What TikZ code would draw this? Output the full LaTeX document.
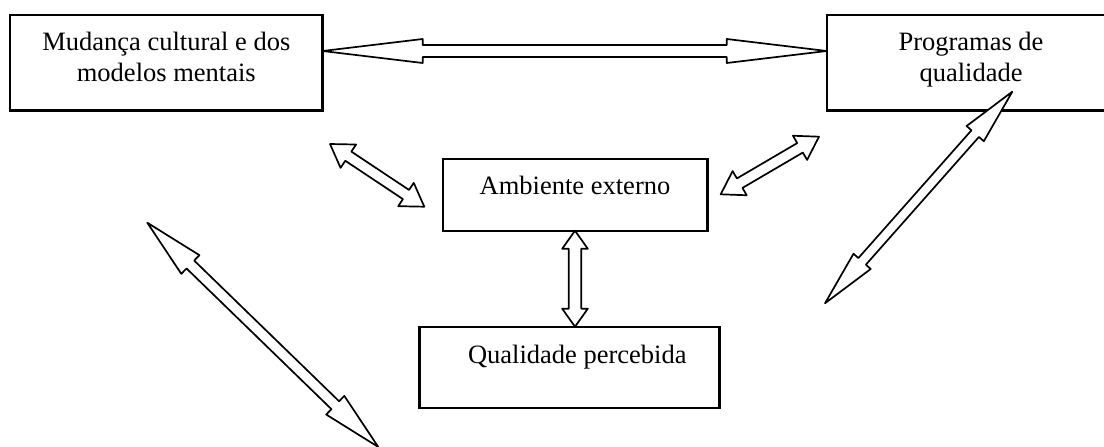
\documentclass[tikz,border=0pt]{standalone}
\usepackage{fontspec}
\setmainfont{Liberation Serif}
\usetikzlibrary{calc}

\newcommand{\blockarrow}[5]{%
  \draw[blockline] (#1)
    -- ($(#1)!#3!(#2)!#4!90:(#2)$)
    -- ($(#1)!#3!(#2)!#5!90:(#2)$)
    -- ($(#2)!#3!(#1)!#5!-90:(#1)$)
    -- ($(#2)!#3!(#1)!#4!-90:(#1)$)
    -- (#2)
    -- ($(#2)!#3!(#1)!#4!90:(#1)$)
    -- ($(#2)!#3!(#1)!#5!90:(#1)$)
    -- ($(#1)!#3!(#2)!#5!-90:(#2)$)
    -- ($(#1)!#3!(#2)!#4!-90:(#2)$)
    -- cycle;}

\begin{document}
\begin{tikzpicture}[
      x=1pt, y=-1pt,
      box/.style={draw, line width=2.4pt, outer sep=0pt, inner sep=0pt},
      txt/.style={font=\fontsize{26.5}{30.5}\selectfont, align=center,
        inner sep=0pt, anchor=north},
      blockline/.style={draw, fill=white, line width=1.7pt, line join=round},
    ]
    \useasboundingbox (0,0) rectangle (1104,447);
    \clip (0,0) rectangle (1104,447);

    \node[box, minimum width=312.7pt, minimum height=95.7pt] (cult) at (166.3,62.8) {};
    \node[box, minimum width=288.6pt, minimum height=95.7pt] (prog) at (971,62.8) {};
    \node[box, minimum width=264.6pt, minimum height=72pt] (amb) at (575,194.7) {};
    \node[box, minimum width=300pt, minimum height=81pt] (qual) at (569.3,367.2) {};

    \node[txt] (cultT) at ([yshift=-17pt]cult.north) {Mudança cultural e dos\\modelos mentais};
    \node[txt] (progT) at ([yshift=-17pt]prog.north) {Programas de\\qualidade};
    \node[txt] (ambT) at ([yshift=-17pt]amb.north) {Ambiente externo};
    \node[txt] (qualT) at ([xshift=8pt, yshift=-18.5pt]qual.north) {Qualidade percebida};

    \coordinate (cp1) at ([yshift=11.8pt]cult.east);
    \coordinate (cp2) at ([yshift=11.8pt]prog.west);
    \coordinate (ca1) at (330,144);
    \coordinate (ca2) at (424.3,206.7);
    \coordinate (ap1) at (720.7,194.3);
    \coordinate (ap2) at (819,136.7);
    \coordinate (aq1) at (amb.south);
    \coordinate (aq2) at (amb.south |- qual.north);
    \coordinate (pq1) at (1012.3,91.7);
    \coordinate (pq2) at (825,303.3);
    \coordinate (cq1) at (147.3,222.7);
    \coordinate (cq2) at (378.3,447);

    \blockarrow{cp1}{cp2}{100pt}{12pt}{6pt}
    \blockarrow{ca1}{ca2}{22pt}{14pt}{5.5pt}
    \blockarrow{ap1}{ap2}{22pt}{14pt}{5.5pt}
    \blockarrow{aq1}{aq2}{18pt}{12.8pt}{6.3pt}
    \blockarrow{pq1}{pq2}{56pt}{11.5pt}{5pt}
    \blockarrow{cq1}{cq2}{60pt}{13pt}{5.5pt}
\end{tikzpicture}
\end{document}
